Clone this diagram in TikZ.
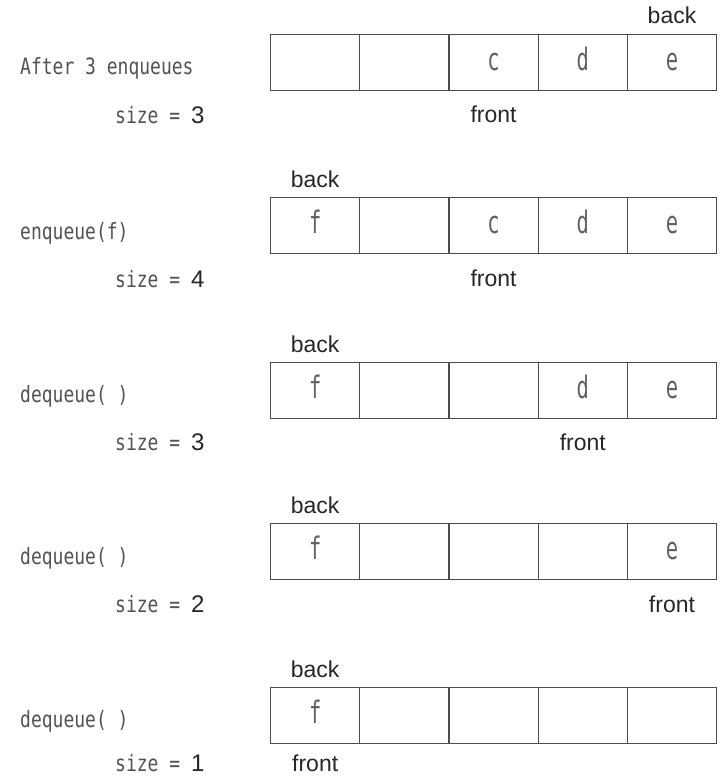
\documentclass[tikz,border=0pt]{standalone}
\usepackage{fontspec}
\setmainfont{Liberation Sans}
% narrow typewriter faces for operation names and cell contents
\newfontfamily\opfont[FakeStretch=0.8]{DejaVu Sans Mono}
\newfontfamily\cellfont[FakeStretch=0.66]{DejaVu Sans Mono}

% one row of five array cells; #1 row name, #2 top edge, #3..#7 contents
\newcommand{\queuerow}[7]{%
  \node[cell] (#1-1) at (270,#2)   {#3};
  \node[cell] (#1-2) at (359.2,#2) {#4};
  \node[cell] (#1-3) at (448.4,#2) {#5};
  \node[cell] (#1-4) at (537.6,#2) {#6};
  \node[cell] (#1-5) at (626.8,#2) {#7};
}

\begin{document}
\begin{tikzpicture}[x=1pt,y=-1pt,
  cell/.style={draw=black!70, line width=1.2pt, anchor=north west,
    minimum width=89.2pt, minimum height=56pt, inner sep=0pt,
    text height=16pt, text depth=0pt, text=black!62,
    font=\cellfont\fontsize{31}{31}\selectfont},
  oplabel/.style={anchor=base west, inner sep=0pt, text=black!68,
    font=\opfont\fontsize{22.5}{22.5}\selectfont},
  sizelabel/.style={oplabel},
  ptr/.style={anchor=base, inner sep=0pt, text=black!85,
    font=\fontsize{23}{23}\selectfont},
  ]
\useasboundingbox (0,0) rectangle (721,778);

\newcommand{\num}[1]{{\rmfamily\fontsize{24}{24}\selectfont\color{black!85}#1}}

% row 1: after three enqueues
\queuerow{a}{34}{}{}{c}{d}{e}
\node[oplabel] (a-op) at (20,75) {After 3 enqueues};
\node[sizelabel] (a-size) at (115,124) {size = \num{3}};
\node[ptr] (a-back) at (a-5.north |- 0,24) {back};
\node[ptr] (a-front) at (a-3.south |- 0,123) {front};

% row 2: enqueue(f)
\queuerow{b}{197}{f}{}{c}{d}{e}
\node[oplabel] (b-op) at (20,239) {enqueue(f)};
\node[sizelabel] (b-size) at (115,287) {size = \num{4}};
\node[ptr] (b-back) at (b-1.north |- 0,187) {back};
\node[ptr] (b-front) at (b-3.south |- 0,286) {front};

% row 3: dequeue()
\queuerow{c}{362}{f}{}{}{d}{e}
\node[oplabel] (c-op) at (20,402) {dequeue( )};
\node[sizelabel] (c-size) at (115,450) {size = \num{3}};
\node[ptr] (c-back) at (c-1.north |- 0,352) {back};
\node[ptr] (c-front) at (c-4.south |- 0,450) {front};

% row 4: dequeue()
\queuerow{d}{523}{f}{}{}{}{e}
\node[oplabel] (d-op) at (20,564) {dequeue( )};
\node[sizelabel] (d-size) at (115,612) {size = \num{2}};
\node[ptr] (d-back) at (d-1.north |- 0,513) {back};
\node[ptr] (d-front) at (d-5.south |- 0,612) {front};

% row 5: dequeue()
\queuerow{e}{687}{f}{}{}{}{}
\node[oplabel] (e-op) at (20,727) {dequeue( )};
\node[sizelabel] (e-size) at (115,771) {size = \num{1}};
\node[ptr] (e-back) at (e-1.north |- 0,677) {back};
\node[ptr] (e-front) at (e-1.south |- 0,771) {front};
\end{tikzpicture}
\end{document}
